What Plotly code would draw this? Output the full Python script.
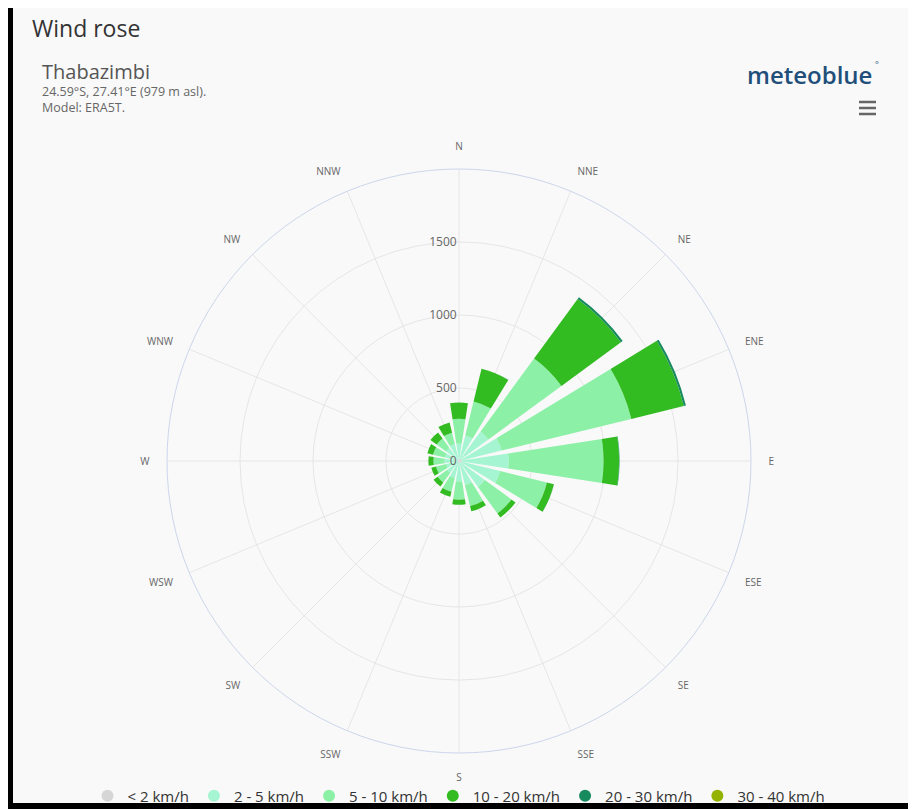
import plotly.graph_objects as go

# ---- data ----
directions = ["N", "NNE", "NE", "ENE", "E", "ESE", "SE", "SSE",
              "S", "SSW", "SW", "WSW", "W", "WNW", "NW", "NNW"]
speed_bins = ["< 2 km/h", "2 - 5 km/h", "5 - 10 km/h",
              "10 - 20 km/h", "20 - 30 km/h", "30 - 40 km/h"]

lt2 = [12, 14, 16, 18, 18, 16, 14, 12, 12, 11, 10, 10, 10, 10, 11, 12]
s2_5 = [108, 166, 234, 282, 322, 274, 206, 158, 128, 109, 90, 80, 90, 90, 99, 108]
s5_10 = [170, 240, 620, 915, 650, 330, 225, 148, 125, 97, 82, 72, 75, 83, 80, 80]
s10_20 = [110, 230, 505, 370, 107, 49, 35, 37, 35, 35, 34, 33, 35, 40, 53, 72]
s20_30 = [0, 1, 15, 15, 3, 1, 0, 0, 0, 0, 0, 0, 0, 0, 0, 0]
s30_40 = [0, 0, 0, 0, 0, 0, 0, 0, 0, 0, 0, 0, 0, 0, 0, 0]

series = [lt2, s2_5, s5_10, s10_20, s20_30, s30_40]
colors = ["#d6d6d6", "#a6f5d2", "#8cf0a6", "#33bb22", "#178a5e", "#93b300"]

radial_ticks = [0, 500, 1000, 1500]

title_text = "Wind rose"
station = "Thabazimbi"
subtitle_lines = ["24.59°S, 27.41°E (979 m asl).", "Model: ERA5T."]

# page is rendered with an 8px body margin -> figure is offset by 8px
OFF = 8
W, H = 900, 809
FONT = "Open Sans"

fig = go.Figure()

for name, vals, col in zip(speed_bins, series, colors):
    fig.add_trace(go.Barpolar(
        r=vals, theta=directions, name=name,
        marker=dict(color=col, line=dict(width=0)),
        showlegend=False, legendgroup=name,
    ))
    fig.add_trace(go.Scatterpolar(
        r=[None], theta=[None], mode="markers", name=name,
        marker=dict(color=col, size=12, symbol="circle"),
        showlegend=True, legendgroup=name,
    ))


def px_x(x):
    return (x - OFF) / W


def px_y(y):
    return 1 - (y - OFF) / H


# polar circle (page pixels): centre (459, 461), radius 292
cx, cy, R = 459, 461, 292


def hline(y):
    return dict(type="line", xref="paper", yref="paper",
                x0=px_x(859), x1=px_x(876), y0=px_y(y), y1=px_y(y),
                line=dict(color="#666666", width=2.5))


fig.update_layout(
    width=W, height=H,
    margin=dict(l=0, r=0, t=0, b=0),
    paper_bgcolor="#000000",
    plot_bgcolor="#f9f9f9",
    font=dict(family=FONT, color="#333333"),
    polar=dict(
        domain=dict(x=[px_x(cx - R), px_x(cx + R)], y=[px_y(cy + R), px_y(cy - R)]),
        bgcolor="rgba(0,0,0,0)",
        bargap=0.22,
        barmode="stack",
        angularaxis=dict(
            type="category",
            categoryarray=directions,
            rotation=90,
            direction="clockwise",
            showline=True, linecolor="#ccd6eb", linewidth=1,
            showgrid=True, gridcolor="#e6e6e6", gridwidth=1,
            ticks="outside", ticklen=15, tickcolor="rgba(0,0,0,0)",
            tickfont=dict(size=10, color="#666666", family=FONT),
        ),
        radialaxis=dict(
            range=[0, 2000],
            tickvals=radial_ticks,
            angle=90,
            side="counterclockwise",
            tickangle=90,
            showline=False,
            showgrid=True, gridcolor="#e6e6e6", gridwidth=1,
            ticks="",
            tickfont=dict(size=12, color="#666666", family=FONT),
        ),
    ),
    legend=dict(
        orientation="h",
        x=px_x(459), xanchor="center", y=px_y(796), yanchor="middle",
        bgcolor="rgba(0,0,0,0)",
        font=dict(size=15, color="#333333", family=FONT),
        itemclick=False,
    ),
    shapes=[
        dict(type="rect", xref="paper", yref="paper", layer="below",
             x0=px_x(13), x1=1, y0=px_y(803), y1=1,
             fillcolor="#f9f9f9", line=dict(width=0)),
        hline(102), hline(108), hline(114),
    ],
    annotations=[
        dict(text=title_text, xref="paper", yref="paper", x=px_x(30), y=px_y(28),
             xanchor="left", yanchor="middle", showarrow=False,
             font=dict(size=23, color="#333333", family=FONT)),
        dict(text=station, xref="paper", yref="paper", x=px_x(40), y=px_y(71),
             xanchor="left", yanchor="middle", showarrow=False,
             font=dict(size=20, color="#555555", family=FONT)),
        dict(text="<br>".join(subtitle_lines), xref="paper", yref="paper",
             x=px_x(40), y=px_y(100), align="left",
             xanchor="left", yanchor="middle", showarrow=False,
             font=dict(size=12.5, color="#666666", family=FONT)),
        dict(text="meteoblue", xref="paper", yref="paper", x=px_x(874), y=px_y(74),
             xanchor="right", yanchor="middle", showarrow=False,
             font=dict(size=24, color="#1f4f7a", family=FONT, weight=600)),
        dict(text="°", xref="paper", yref="paper", x=px_x(873), y=px_y(64),
             xanchor="left", yanchor="middle", showarrow=False,
             font=dict(size=9, color="#1f4f7a", family=FONT)),
    ],
)

fig.write_html("out.html")
